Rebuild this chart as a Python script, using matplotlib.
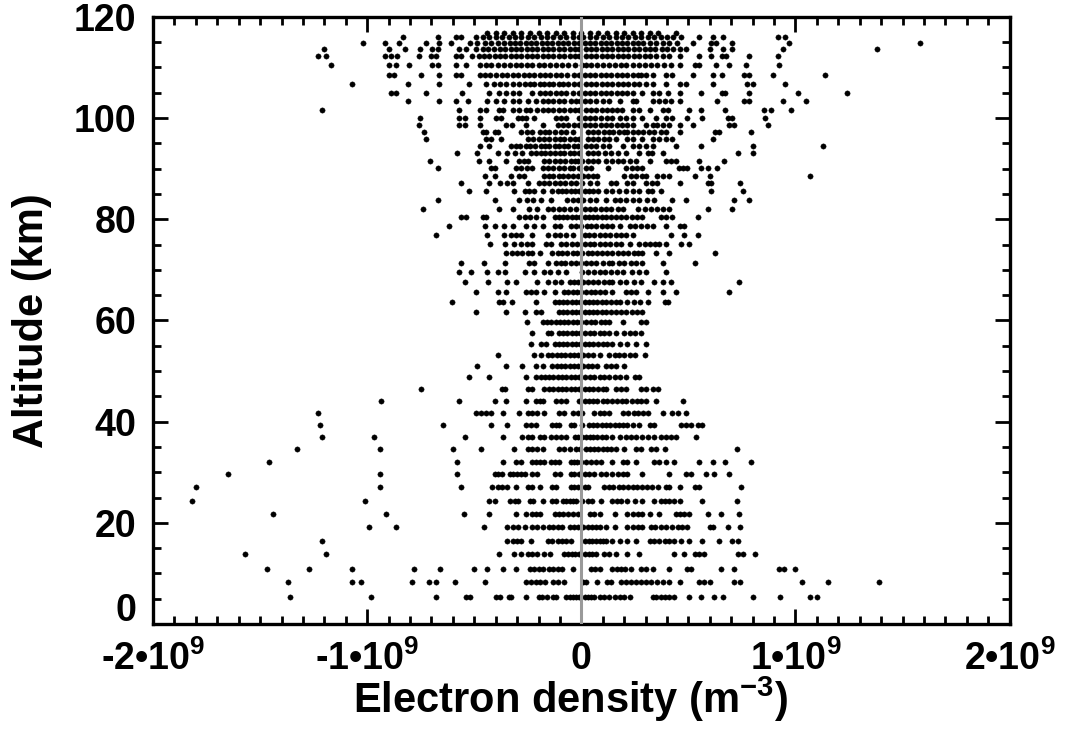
import numpy as np
import matplotlib
matplotlib.use('Agg')
import matplotlib.pyplot as plt
import matplotlib.transforms as mtransforms
from matplotlib.ticker import FixedLocator, MultipleLocator

# ---- font setup: bold sans like the IDL original ----
plt.rcParams['font.family'] = ['Liberation Sans', 'DejaVu Sans']
plt.rcParams['font.weight'] = 'bold'
plt.rcParams['axes.labelweight'] = 'bold'
plt.rcParams['mathtext.fontset'] = 'custom'
plt.rcParams['mathtext.rm'] = 'Liberation Sans:bold'
plt.rcParams['mathtext.bf'] = 'Liberation Sans:bold'
plt.rcParams['mathtext.default'] = 'rm'

# ---- data: altitude of each range row (km) and the densities seen on it (units of 1e8 m^-3) ----
altitude_km = [5.3, 8.3, 10.9, 13.8, 16.4, 19.2, 21.7, 24.3, 27.1, 29.7,
               32.0, 34.6, 37.0, 39.3, 41.7, 44.1, 46.5, 48.8, 51.0, 53.2,
               55.4, 57.5, 59.7, 61.7, 63.7, 65.6, 67.6, 69.6, 71.4, 73.3,
               75.1, 76.9, 78.7, 80.5, 82.0, 83.8, 85.6, 87.2, 88.6, 90.2,
               91.5, 93.1, 94.5, 95.9, 97.3, 98.7, 100.0, 101.6, 103.3, 105.0,
               106.8, 108.6, 110.4, 112.2, 113.6, 114.8, 116.0, 116.8]

density_rows = [
    [-13.6, -9.8, -6.8, -5.4, -5.2, -4.0, -3.8, -3.4, -3.3, -2.6, -2.0, -1.85, -1.6, -1.3, -1.2, -0.7, -0.55, -0.4, -0.25, -0.1,
     0.15, 0.3, 0.45, 0.6, 0.85, 1.05, 1.3, 1.55, 1.8, 2.0, 2.25, 3.35, 3.5, 3.7, 3.9, 4.1, 4.35, 5.05, 5.6, 6.2, 6.6, 8.0, 9.3, 10.7, 11.0],
    [-13.7, -10.7, -10.3, -7.9, -7.1, -6.8, -5.9, -4.5, -2.6, -2.35, -2.1, -1.95, -1.7, -1.3, -1.1, -0.8, 0.1, 0.2, 0.75, 1.2, 1.4,
     1.85, 2.1, 2.3, 2.55, 2.8, 3.0, 3.25, 3.55, 3.8, 4.1, 4.6, 5.5, 5.75, 6.0, 7.15, 7.4, 10.3, 11.5, 13.9],
    [-14.7, -12.7, -10.7, -7.8, -6.6, -5.0, -4.4, -3.65, -3.05, -2.4, -2.2, -2.0, -1.8, -1.5, -1.3, -1.1, -0.9, -0.4, 0.45, 0.65, 0.85,
     1.45, 1.65, 1.85, 2.05, 2.3, 2.8, 3.0, 3.35, 4.1, 4.95, 5.1, 6.5, 7.15, 9.25, 9.45, 10.0],
    [-15.7, -11.9, -3.85, -3.15, -2.8, -2.5, -2.3, -2.05, -1.75, -1.45, -0.8, -0.6, -0.45, -0.3, -0.1, 0.15, 0.35, 0.5, 0.7, 1.05,
     1.3, 1.6, 2.15, 2.7, 4.35, 4.8, 5.3, 5.5, 5.75, 7.3, 7.55, 8.1],
    [-12.1, -3.45, -3.2, -3.0, -2.8, -2.35, -1.55, -1.35, -1.1, -0.9, -0.7, -0.5, 0.15, 0.35, 0.5, 0.7, 0.85, 1.0, 1.15, 1.45, 1.8,
     2.15, 2.55, 3.2, 3.4, 3.65, 3.9, 4.1, 4.35, 4.65, 5.05, 5.65, 6.45, 7.05, 7.3],
    [-9.9, -8.65, -4.55, -3.45, -3.2, -2.95, -2.65, -2.3, -2.05, -1.8, -1.5, -1.3, -1.1, -0.9, -0.55, -0.35, -0.15, 0.1, 0.3, 0.5,
     0.7, 0.85, 1.15, 1.55, 2.15, 2.4, 2.65, 2.85, 3.25, 3.45, 3.7, 3.95, 4.25, 4.5, 4.7, 4.95, 6.0, 6.15, 6.85, 7.4],
    [-14.4, -9.1, -5.5, -4.3, -3.05, -2.6, -2.3, -2.1, -1.95, -1.25, -1.05, -0.85, -0.6, -0.4, -0.15, 0.4, 0.6, 0.85, 1.55, 2.15,
     2.4, 2.65, 2.85, 3.2, 3.65, 4.4, 4.6, 4.8, 5.05, 5.9, 6.5, 7.35],
    [-18.2, -10.1, -4.3, -4.05, -3.35, -3.1, -2.95, -2.4, -2.25, -1.8, -1.35, -1.2, -0.85, -0.7, -0.55, -0.4, -0.25, 0.05, 0.3, 0.5,
     0.9, 1.45, 1.65, 1.85, 2.15, 2.5, 2.85, 3.4, 3.7, 3.9, 4.1, 4.35, 4.6, 5.65, 7.25],
    [-18.0, -9.4, -5.6, -4.15, -3.9, -3.7, -3.45, -3.05, -2.5, -2.3, -1.95, -1.35, -1.2, -0.5, -0.33, -0.17, 0.15, 0.3, 1.05, 1.3,
     1.5, 1.75, 1.95, 2.2, 2.4, 2.6, 2.85, 3.05, 3.3, 3.6, 3.95, 4.1, 4.6, 5.3, 5.5, 7.45],
    [-16.5, -9.4, -5.8, -4.05, -3.9, -3.7, -3.35, -3.2, -3.0, -2.8, -2.65, -2.3, -2.05, -1.25, -1.0, -0.5, -0.33, -0.1, 0.15, 0.35,
     0.6, 0.9, 1.15, 1.45, 1.7, 1.95, 2.15, 2.85, 4.1, 4.9, 5.1, 5.8, 6.2, 6.9],
    [-14.6, -5.8, -3.65, -3.05, -2.8, -2.3, -2.1, -1.95, -1.75, -1.4, -1.25, -1.05, -0.5, -0.35, -0.2, 0.0, 0.2, 0.45, 0.7, 0.9,
     1.45, 1.95, 2.15, 2.55, 3.4, 3.65, 3.95, 4.35, 5.5, 6.15, 6.7, 7.9],
    [-13.3, -9.4, -6.0, -4.7, -3.15, -2.5, -2.3, -2.05, -1.8, -1.05, -0.8, -0.55, -0.25, -0.05, 0.2, 0.4, 0.6, 0.8, 1.0, 1.2,
     1.4, 1.6, 2.0, 2.55, 2.8, 3.25, 3.5, 3.9, 7.25],
    [-12.1, -9.7, -5.45, -3.65, -2.75, -2.5, -2.3, -1.95, -1.75, -1.4, -1.2, -0.95, -0.7, -0.3, -0.15, 0.05, 0.2, 0.4, 0.55, 0.75,
     0.95, 1.15, 1.45, 1.8, 2.1, 2.3, 2.55, 2.85, 3.1, 3.4, 3.7, 3.95, 4.2, 4.4, 5.35],
    [-12.2, -6.45, -4.2, -3.45, -2.6, -2.35, -2.1, -1.35, -1.2, -1.05, -0.5, -0.33, 0.05, 0.35, 0.55, 0.75, 0.95, 1.15, 1.35, 1.55,
     1.75, 1.95, 2.15, 2.4, 2.7, 3.2, 3.4, 4.65, 4.9, 5.1, 5.45, 5.65],
    [-12.3, -4.9, -4.7, -4.45, -4.2, -3.65, -2.9, -2.5, -2.3, -2.05, -1.75, -1.05, -0.8, -0.4, -0.17, 0.05, 0.6, 0.85, 1.05, 1.3,
     1.95, 2.2, 2.45, 2.65, 2.9, 3.1, 3.8, 4.25, 4.5, 4.9],
    [-9.35, -5.7, -4.05, -3.5, -2.6, -2.1, -1.95, -1.8, -1.2, -0.95, -0.7, -0.1, 0.15, 0.35, 0.55, 0.75, 1.0, 1.2, 1.45, 1.65,
     1.9, 2.1, 2.35, 2.6, 2.8, 3.0, 3.5, 4.75],
    [-7.5, -3.7, -3.55, -2.5, -2.3, -1.75, -1.5, -1.3, -1.1, -0.9, -0.7, -0.5, -0.3, -0.1, 0.15, 0.35, 0.55, 0.8, 1.0, 1.15,
     1.6, 1.85, 2.1, 2.8, 3.0, 3.35, 3.6],
    [-5.25, -4.3, -2.6, -2.1, -1.9, -1.7, -1.5, -1.3, -1.1, -0.9, -0.7, -0.5, -0.3, -0.1, 0.15, 0.4, 0.6, 0.85, 1.05, 1.3,
     1.55, 1.8, 2.1, 2.5, 2.7],
    [-4.85, -3.5, -2.75, -2.1, -1.8, -1.35, -1.15, -0.95, -0.75, -0.55, -0.35, -0.15, 0.1, 0.3, 0.5, 0.75, 1.15, 1.4, 1.6, 2.0],
    [-3.9, -2.2, -1.9, -1.55, -1.35, -1.15, -0.95, -0.75, -0.55, -0.35, -0.15, 0.1, 0.3, 0.55, 0.85, 1.3, 1.55, 1.75, 2.0, 2.25,
     2.5, 2.95],
    [-2.35, -1.9, -1.65, -1.25, -1.05, -0.85, -0.65, -0.45, -0.25, -0.05, 0.15, 0.35, 0.55, 0.8, 1.0, 1.2, 1.45, 1.8, 2.15, 2.55, 3.0],
    [-2.3, -1.55, -1.4, -1.05, -0.85, -0.65, -0.45, -0.25, -0.05, 0.15, 0.4, 0.6, 0.85, 1.05, 1.3, 1.6, 2.0, 2.25, 2.5, 2.8],
    [-2.55, -1.8, -1.6, -1.4, -1.2, -1.0, -0.8, -0.6, -0.4, -0.2, 0.0, 0.2, 0.45, 0.65, 0.9, 1.1, 1.3, 1.95, 2.8, 3.0],
    [-4.9, -3.5, -2.65, -2.1, -1.9, -1.05, -0.85, -0.65, -0.45, -0.25, -0.05, 0.15, 0.35, 0.55, 0.75, 0.95, 1.15, 1.4, 1.6, 1.85,
     2.1, 2.35, 2.6, 2.85],
    [-6.05, -3.85, -3.65, -3.25, -2.1, -1.25, -1.05, -0.85, -0.65, -0.45, -0.25, -0.05, 0.15, 0.35, 0.55, 0.75, 0.95, 1.15, 1.4, 1.6,
     1.8, 2.15, 2.45, 2.75, 3.1, 3.9, 4.05],
    [-4.9, -3.9, -3.5, -2.6, -2.35, -2.1, -1.75, -1.25, -0.8, -0.6, -0.4, -0.2, 0.0, 0.2, 0.45, 0.65, 0.85, 1.1, 1.45, 2.1,
     2.3, 2.55, 3.1, 3.8, 4.4, 6.9],
    [-5.45, -4.35, -3.45, -3.05, -2.05, -1.55, -1.25, -0.95, -0.55, -0.35, -0.15, 0.1, 0.3, 0.55, 0.8, 1.05, 1.3, 1.45, 1.8, 2.1,
     2.45, 2.8, 3.4, 3.8, 4.2, 7.35],
    [-5.7, -5.15, -4.4, -3.9, -3.55, -2.65, -2.2, -1.75, -1.45, -1.1, -0.7, 0.05, 0.3, 0.6, 0.85, 1.1, 1.4, 1.65, 1.95, 2.35,
     2.7, 3.0, 3.95],
    [-5.6, -4.55, -3.55, -2.45, -2.2, -1.55, -1.2, -0.95, -0.75, -0.5, -0.25, 0.0, 0.2, 0.45, 0.7, 1.0, 1.3, 1.45, 1.75, 2.0,
     2.3, 2.55, 2.85, 3.8, 5.3],
    [-3.5, -3.25, -3.0, -2.75, -2.5, -2.3, -1.95, -1.35, -1.1, -0.9, -0.65, -0.4, -0.2, 0.05, 0.3, 0.5, 0.75, 0.95, 1.2, 1.45,
     1.7, 1.95, 2.2, 2.45, 2.65, 2.85, 3.5, 4.1, 6.25],
    [-4.25, -3.55, -3.15, -2.8, -2.55, -2.3, -1.65, -1.4, -0.95, -0.7, -0.45, -0.2, 0.15, 0.4, 0.6, 0.85, 1.1, 1.35, 1.6, 1.85,
     2.25, 2.7, 2.95, 3.2, 3.45, 3.65, 3.95, 4.65, 5.05],
    [-6.8, -4.4, -3.6, -3.3, -3.05, -2.8, -2.3, -1.55, -1.25, -1.0, -0.7, -0.4, 0.15, 0.35, 0.6, 0.85, 1.1, 1.35, 1.6, 1.85,
     2.1, 2.4, 4.2, 4.8, 5.45],
    [-6.2, -4.5, -4.05, -3.6, -3.2, -2.6, -2.2, -1.8, -1.25, -1.0, -0.5, -0.25, 0.0, 0.25, 0.45, 0.7, 0.95, 1.2, 1.45, 1.8,
     2.25, 2.5, 2.8, 3.05, 3.35, 3.95, 4.6, 4.8],
    [-5.6, -5.4, -4.6, -4.45, -2.9, -2.65, -2.4, -2.1, -1.8, -1.25, -1.05, -0.85, -0.65, -0.45, -0.25, -0.05, 0.15, 0.35, 0.55, 0.75,
     0.95, 1.15, 1.4, 1.6, 1.85, 2.1, 2.35, 2.6, 2.85, 3.7, 3.95, 4.25, 5.45],
    [-7.4, -3.85, -3.2, -2.45, -2.05, -1.55, -1.3, -1.05, -0.8, -0.55, -0.25, 0.15, 0.4, 0.65, 0.9, 1.15, 1.4, 1.7, 1.95, 2.65,
     2.95, 3.25, 3.55, 3.8, 4.1, 5.9, 7.05],
    [-6.7, -4.05, -2.9, -2.55, -2.25, -1.9, -1.4, -0.65, -0.4, -0.15, 0.1, 0.4, 0.7, 1.15, 1.55, 1.8, 2.1, 2.4, 2.7, 3.05,
     3.4, 4.25, 4.9, 7.15, 7.85],
    [-5.25, -4.45, -3.15, -2.65, -2.45, -2.2, -1.8, -1.35, -1.1, -0.9, -0.7, -0.5, -0.3, -0.1, 0.15, 0.35, 0.55, 0.8, 1.15, 1.45,
     1.75, 2.1, 2.4, 2.7, 3.1, 3.3, 3.7, 6.05, 7.55],
    [-5.6, -4.3, -3.8, -3.45, -3.2, -2.5, -2.0, -1.75, -1.5, -1.25, -1.0, -0.75, -0.5, -0.25, 0.05, 0.4, 0.75, 1.4, 1.6, 2.15,
     2.4, 3.0, 3.3, 3.55, 4.6, 5.9, 6.05, 7.4],
    [-4.5, -4.05, -3.3, -2.9, -2.7, -1.75, -1.5, -1.3, -1.05, -0.85, -0.6, -0.4, -0.15, 0.1, 0.3, 0.55, 0.75, 2.0, 2.3, 2.55,
     2.85, 3.0, 3.55, 3.8, 4.1, 5.3, 6.0, 10.7],
    [-6.7, -4.2, -4.05, -3.05, -2.8, -2.55, -2.3, -1.8, -1.55, -1.3, -1.05, -0.8, -0.55, -0.4, -0.1, 0.2, 0.45, 1.25, 2.1, 2.35,
     2.6, 2.85, 4.55, 4.75, 4.95, 5.6, 5.9, 6.35],
    [-7.05, -4.8, -4.3, -3.5, -2.9, -2.7, -2.5, -1.75, -1.5, -1.25, -1.0, -0.75, -0.5, -0.3, -0.15, 0.05, 0.3, 0.55, 0.8, 1.15,
     1.45, 1.7, 1.95, 2.25, 2.55, 3.2, 3.95, 4.2, 4.4, 5.5, 6.65],
    [-5.8, -4.85, -3.9, -3.45, -3.1, -2.75, -2.35, -2.1, -1.9, -1.7, -1.45, -1.25, -1.0, -0.8, -0.55, -0.35, -0.1, 0.3, 0.55, 0.8,
     1.1, 1.4, 1.7, 2.1, 2.7, 3.1, 3.3, 3.8, 7.3, 8.0],
    [-4.75, -4.3, -3.3, -3.05, -2.85, -2.6, -2.4, -2.15, -1.9, -1.7, -1.5, -1.25, -1.05, -0.8, -0.6, -0.35, -0.15, 0.2, 0.45, 0.7,
     1.0, 1.3, 1.95, 2.4, 2.7, 3.0, 3.35, 4.4, 5.6, 8.0, 11.3],
    [-7.25, -4.45, -4.2, -3.75, -2.5, -2.25, -2.0, -1.75, -1.5, -1.25, -1.0, -0.8, -0.55, -0.3, -0.1, 0.3, 0.55, 0.8, 1.05, 1.3,
     1.6, 2.15, 2.4, 2.85, 3.35, 3.65, 3.95, 4.25, 6.15],
    [-7.35, -4.6, -4.45, -4.05, -3.9, -2.8, -2.55, -2.3, -1.95, -1.7, -1.5, -1.25, -0.95, -0.7, -0.4, 0.3, 0.55, 0.8, 1.05, 1.3,
     1.5, 1.75, 2.0, 2.15, 2.4, 2.65, 2.9, 3.15, 3.4, 3.7, 3.95, 4.6, 6.25, 6.45, 7.9],
    [-7.6, -5.7, -5.45, -4.75, -3.5, -3.25, -2.6, -1.8, -1.1, -0.85, -0.6, -0.35, -0.1, 0.15, 0.4, 0.65, 0.9, 1.15, 1.4, 1.65,
     1.9, 2.15, 2.4, 3.0, 3.35, 3.55, 3.8, 4.1, 4.6, 5.2, 6.9, 7.15, 8.7],
    [-7.55, -5.7, -5.45, -4.75, -4.0, -3.75, -2.95, -2.75, -2.6, -2.2, -1.2, -0.95, -0.7, -0.1, 0.15, 0.4, 0.65, 0.9, 1.2, 1.45,
     1.8, 2.1, 2.4, 2.85, 3.5, 3.95, 4.25, 4.95, 5.65, 6.85, 7.05, 8.6],
    [-12.1, -5.7, -4.75, -4.45, -3.85, -3.65, -3.2, -2.9, -2.6, -2.4, -2.05, -1.8, -1.55, -1.3, -1.05, -0.8, -0.55, -0.3, -0.1, 0.2,
     0.45, 0.7, 0.95, 1.2, 1.45, 1.65, 1.9, 2.4, 2.7, 3.2, 3.8, 4.05, 5.05, 5.6, 6.7, 8.55, 8.85, 9.8],
    [-8.1, -6.65, -5.85, -5.3, -4.4, -4.0, -3.6, -3.2, -2.9, -2.5, -2.1, -1.8, -1.55, -1.3, -1.05, -0.8, -0.5, -0.25, -0.05, 0.15,
     0.4, 0.7, 1.0, 1.3, 1.8, 2.4, 2.55, 3.35, 3.65, 3.9, 4.2, 4.6, 6.35, 7.6, 7.85, 9.4, 10.5],
    [-8.9, -8.65, -7.25, -5.55, -4.3, -3.85, -3.5, -3.2, -2.9, -2.3, -1.95, -1.7, -1.45, -1.2, -0.95, -0.7, -0.4, -0.1, 0.15, 0.4,
     0.65, 0.9, 1.15, 1.4, 1.65, 1.9, 2.15, 2.4, 2.85, 3.35, 3.65, 4.05, 4.6, 5.6, 6.55, 6.7, 7.85, 10.1, 12.4],
    [-10.7, -8.1, -6.65, -5.25, -4.45, -4.1, -3.8, -3.5, -3.2, -2.9, -2.65, -2.4, -2.2, -1.95, -1.75, -1.5, -1.3, -1.05, -0.85, -0.6,
     -0.35, -0.1, 0.2, 0.45, 0.7, 0.95, 1.2, 1.45, 1.7, 1.95, 2.2, 2.45, 2.7, 3.0, 3.35, 3.95, 4.6, 4.9, 6.15, 7.75, 8.0, 9.5],
    [-9.0, -8.75, -7.5, -6.65, -5.85, -5.6, -4.75, -4.5, -4.25, -4.0, -3.7, -3.45, -3.2, -2.95, -2.7, -2.45, -2.2, -1.95, -1.7, -1.45,
     -1.2, -0.95, -0.65, -0.35, -0.1, 0.15, 0.4, 0.65, 0.9, 1.15, 1.4, 1.65, 1.9, 2.15, 2.4, 2.65, 2.8, 3.0, 3.35, 3.95,
     4.25, 5.2, 6.15, 6.55, 7.6, 7.85, 8.95, 11.4],
    [-11.7, -9.0, -8.65, -8.05, -6.95, -6.7, -5.85, -5.4, -4.75, -4.45, -4.2, -3.9, -3.6, -3.35, -3.05, -2.8, -2.55, -2.3, -2.0, -1.75,
     -1.45, -1.2, -0.9, -0.6, -0.3, 0.05, 0.2, 0.45, 0.75, 1.0, 1.3, 1.55, 1.85, 2.1, 2.4, 2.7, 2.95, 3.25, 3.55, 3.85,
     4.2, 4.6, 5.3, 5.5, 6.3, 6.9, 7.7, 9.25],
    [-12.3, -11.9, -9.15, -8.9, -8.6, -7.6, -7.0, -6.8, -5.85, -5.6, -5.1, -4.8, -4.55, -4.3, -4.05, -3.8, -3.55, -3.3, -3.05, -2.8,
     -2.55, -2.3, -2.05, -1.8, -1.55, -1.3, -1.05, -0.8, -0.55, -0.3, -0.1, 0.2, 0.45, 0.7, 0.95, 1.2, 1.45, 1.7, 1.95, 2.2,
     2.45, 2.7, 2.95, 3.2, 3.5, 3.8, 4.1, 4.6, 5.5, 6.05, 6.55, 6.75, 7.85, 9.2],
    [-12.0, -9.0, -8.25, -7.55, -6.95, -6.7, -5.7, -5.4, -4.9, -4.6, -4.35, -4.1, -3.8, -3.55, -3.3, -3.05, -2.8, -2.55, -2.3, -2.05,
     -1.8, -1.55, -1.3, -1.05, -0.8, -0.55, -0.3, -0.1, 0.2, 0.45, 0.7, 0.95, 1.2, 1.45, 1.7, 1.95, 2.2, 2.45, 2.7, 2.95,
     3.2, 3.45, 3.75, 4.0, 4.3, 4.6, 4.9, 6.0, 6.6, 7.05, 9.4, 13.8],
    [-10.2, -9.15, -8.5, -7.25, -6.65, -6.1, -5.2, -4.85, -4.5, -4.2, -3.9, -3.6, -3.35, -3.1, -2.85, -2.6, -2.35, -2.1, -1.85, -1.6,
     -1.35, -1.1, -0.85, -0.6, -0.35, -0.1, 0.15, 0.4, 0.65, 0.9, 1.15, 1.4, 1.65, 1.9, 2.15, 2.4, 2.65, 2.9, 3.2, 3.5,
     3.8, 4.1, 4.45, 5.2, 6.05, 6.3, 7.05, 9.7, 15.8],
    [-8.35, -6.7, -5.85, -5.6, -4.9, -4.6, -4.3, -4.0, -3.7, -3.4, -3.1, -2.8, -2.5, -2.2, -1.9, -1.6, -1.3, -1.0, -0.7, -0.4,
     -0.1, 0.1, 0.4, 0.7, 1.0, 1.3, 1.6, 1.9, 2.2, 2.5, 2.8, 3.1, 3.4, 3.7, 4.0, 4.3, 4.65, 5.5, 6.15, 6.6, 9.2, 9.5],
    [-4.4, -4.0, -3.6, -3.2, -2.8, -2.4, -2.0, -1.6, -1.2, -0.8, -0.4, 0.0, 0.4, 0.8, 1.2, 1.6, 2.0, 2.4, 2.8, 3.2, 3.6, 4.4],
]

x_tick_values = [-2e9, -1e9, 0, 1e9, 2e9]
x_tick_labels = ['-2\u202210$^{9}$', '-1\u202210$^{9}$', '0', '1\u202210$^{9}$', '2\u202210$^{9}$']
y_tick_values = [0, 20, 40, 60, 80, 100, 120]

# flatten rows into x / y point lists
xs, ys = [], []
for alt, row in zip(altitude_km, density_rows):
    for v in row:
        xs.append(v * 1e8)
        ys.append(alt)

fig = plt.figure(figsize=(10.65, 7.32), dpi=100)
ax = fig.add_axes([0.1437, 0.1475, 0.8043, 0.8295])

ax.plot(xs, ys, linestyle='none', marker='o', markersize=3.8,
        markerfacecolor='black', markeredgecolor='black', markeredgewidth=0.3, zorder=2)

# zero line in grey, on top of the points
ax.axvline(0, color='#9a9a9a', linewidth=2.2, zorder=3)

ax.set_xlim(-2e9, 2e9)
ax.set_ylim(0, 120)

ax.xaxis.set_major_locator(FixedLocator(x_tick_values))
ax.set_xticklabels(x_tick_labels)
ax.xaxis.set_minor_locator(MultipleLocator(1e8))
ax.yaxis.set_major_locator(FixedLocator(y_tick_values))
ax.yaxis.set_minor_locator(MultipleLocator(5))

ax.tick_params(which='both', direction='in', top=True, right=True, width=2, colors='black')
ax.tick_params(which='major', length=11, labelsize=27)
ax.tick_params(axis='x', which='major', pad=12)
ax.tick_params(axis='y', which='major', pad=12)
ax.tick_params(which='minor', length=6)

for side in ax.spines.values():
    side.set_linewidth(2.4)

# the "0" altitude label sits a little above its tick in the original
fig.canvas.draw()
lift = mtransforms.ScaledTranslation(0, 17 / 100, fig.dpi_scale_trans)
first_ylabel = ax.get_yticklabels()[0]
first_ylabel.set_transform(first_ylabel.get_transform() + lift)

ax.set_xlabel('Electron density (m$^{-3}$)', fontsize=30, va='top')
ax.xaxis.set_label_coords(0.487, -0.083)
ax.set_ylabel('Altitude (km)', fontsize=30)
ax.yaxis.set_label_coords(-0.118, 0.5)

fig.savefig('out.png', dpi=100)
